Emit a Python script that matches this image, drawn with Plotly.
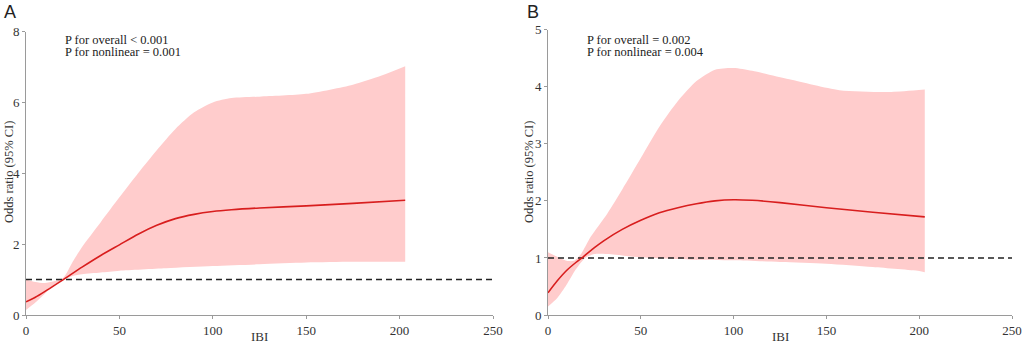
import plotly.graph_objects as go

# ---------------- data ----------------
# Panel A
a_x = [0, 5, 10, 15, 20, 30, 40, 50, 60, 70, 80, 90, 100, 110, 125, 150, 175, 203]
a_or = [0.37, 0.5, 0.66, 0.83, 1.0, 1.35, 1.68, 1.98, 2.28, 2.53, 2.72, 2.84, 2.92, 2.97, 3.02, 3.08, 3.15, 3.24]
a_up_x = [0, 5, 10, 15, 20, 25, 30, 40, 50, 60, 70, 80, 90, 100, 110, 125, 150, 175, 190, 203]
a_up = [1.0, 0.93, 0.9, 0.95, 1.05, 1.5, 1.92, 2.62, 3.32, 4.0, 4.65, 5.25, 5.72, 6.0, 6.12, 6.16, 6.24, 6.5, 6.75, 7.02]
a_lo_x = [0, 5, 10, 15, 20, 25, 30, 40, 50, 75, 100, 125, 150, 175, 203]
a_lo = [0.14, 0.35, 0.6, 0.85, 1.0, 1.1, 1.15, 1.2, 1.25, 1.32, 1.38, 1.43, 1.48, 1.5, 1.5]

# Panel B
b_x = [0, 5, 10, 15, 19, 25, 30, 40, 50, 60, 70, 80, 90, 100, 110, 125, 150, 175, 203]
b_or = [0.39, 0.6, 0.78, 0.92, 1.02, 1.18, 1.3, 1.5, 1.66, 1.79, 1.88, 1.95, 2.0, 2.02, 2.01, 1.97, 1.88, 1.8, 1.72]
b_up_x = [0, 5, 10, 14, 18, 23, 32, 40, 50, 60, 70, 80, 90, 100, 110, 130, 157, 185, 203]
b_up = [1.1, 1.02, 0.95, 0.95, 1.08, 1.37, 1.78, 2.2, 2.75, 3.3, 3.75, 4.1, 4.3, 4.33, 4.28, 4.13, 3.94, 3.91, 3.95]
b_lo_x = [0, 5, 10, 15, 20, 25, 32, 50, 77, 100, 125, 150, 175, 200, 203]
b_lo = [0.15, 0.3, 0.53, 0.8, 1.0, 1.07, 1.07, 1.01, 0.97, 0.96, 0.93, 0.9, 0.84, 0.77, 0.75]

x_ticks = [0, 50, 100, 150, 200, 250]
a_y_ticks = [0, 2, 4, 6, 8]
b_y_ticks = [0, 1, 2, 3, 4, 5]
ref_line = 1.0
x_title = "IBI"
y_title = "Odds ratio (95% CI)"
a_text = ["P for overall < 0.001", "P for nonlinear = 0.001"]
b_text = ["P for overall = 0.002", "P for nonlinear = 0.004"]

# ---------------- style ----------------
W, H = 1026, 343
BAND = "rgb(255,204,204)"
LINE = "#D81E1E"
AXC = "#9a9a9a"
SERIF = "Liberation Serif"
SANS = "Liberation Sans"


def px(x):
    return x / W


def py(y):
    return 1 - y / H


fig = go.Figure()


def add_panel(xs, ys, ux, uy, lx, ly, xa, ya):
    fig.add_trace(go.Scatter(
        x=lx, y=ly, mode="lines",
        line=dict(width=0, color=BAND, shape="spline", smoothing=0.7),
        hoverinfo="skip", showlegend=False, xaxis=xa, yaxis=ya))
    fig.add_trace(go.Scatter(
        x=ux, y=uy, mode="lines", fill="tonexty", fillcolor=BAND,
        line=dict(width=0, color=BAND, shape="spline", smoothing=0.7),
        hoverinfo="skip", showlegend=False, xaxis=xa, yaxis=ya))
    fig.add_trace(go.Scatter(
        x=[0, 250], y=[ref_line, ref_line], mode="lines",
        line=dict(color="#222222", width=1.6, dash="6px,4px"),
        showlegend=False, xaxis=xa, yaxis=ya))
    fig.add_trace(go.Scatter(
        x=xs, y=ys, mode="lines",
        line=dict(color=LINE, width=1.6, shape="spline", smoothing=0.7),
        showlegend=False, xaxis=xa, yaxis=ya))


add_panel(a_x, a_or, a_up_x, a_up, a_lo_x, a_lo, "x", "y")
add_panel(b_x, b_or, b_up_x, b_up, b_lo_x, b_lo, "x2", "y2")

axis_common = dict(
    showgrid=False, zeroline=False, showline=True, linecolor=AXC, linewidth=1,
    ticks="outside", ticklen=3, tickcolor=AXC, tickwidth=1, automargin=False,
    tickfont=dict(family=SERIF, size=13, color="#333333"),
)

fig.update_layout(
    template="none",
    width=W, height=H,
    margin=dict(l=0, r=0, t=0, b=0),
    paper_bgcolor="white", plot_bgcolor="white",
    font=dict(family=SERIF),
    hovermode=False,
    xaxis=dict(domain=[px(26), px(493)], range=[0, 250], tickvals=x_ticks,
               anchor="y", **axis_common),
    yaxis=dict(domain=[py(315), py(31.5)], range=[0, 8], tickvals=a_y_ticks,
               anchor="x", **axis_common),
    xaxis2=dict(domain=[px(548), px(1012)], range=[0, 250], tickvals=x_ticks,
                anchor="y2", **axis_common),
    yaxis2=dict(domain=[py(315), py(29.7)], range=[0, 5], tickvals=b_y_ticks,
                anchor="x2", **axis_common),
)

ann = []
# panel letters
ann.append(dict(text="A", x=px(2), y=py(0), xref="paper", yref="paper",
                xanchor="left", yanchor="top", showarrow=False,
                font=dict(family=SANS, size=18, color="#222222")))
ann.append(dict(text="B", x=px(525), y=py(0), xref="paper", yref="paper",
                xanchor="left", yanchor="top", showarrow=False,
                font=dict(family=SANS, size=18, color="#222222")))
# p-value text
for x0, lines in ((63, a_text), (585, b_text)):
    for i, t in enumerate(lines):
        ann.append(dict(text=t, x=px(x0), y=py(40.5 + 11.5 * i), xref="paper", yref="paper",
                        xanchor="left", yanchor="middle", align="left", showarrow=False,
                        font=dict(family=SERIF, size=12.5, color="#222222")))
# axis titles
for xc in (259, 780):
    ann.append(dict(text=x_title, x=px(xc), y=py(336), xref="paper", yref="paper",
                    xanchor="center", yanchor="middle", showarrow=False,
                    font=dict(family=SERIF, size=13, color="#333333")))
for xc in (9, 529):
    ann.append(dict(text=y_title, x=px(xc), y=py(172), xref="paper", yref="paper",
                    xanchor="center", yanchor="middle", textangle=-90, showarrow=False,
                    font=dict(family=SERIF, size=12.5, color="#333333")))
fig.update_layout(annotations=ann)

fig.write_html("out.html", config={"responsive": False, "displayModeBar": False},
               post_script="document.body.style.margin='0';document.body.style.padding='0';")
